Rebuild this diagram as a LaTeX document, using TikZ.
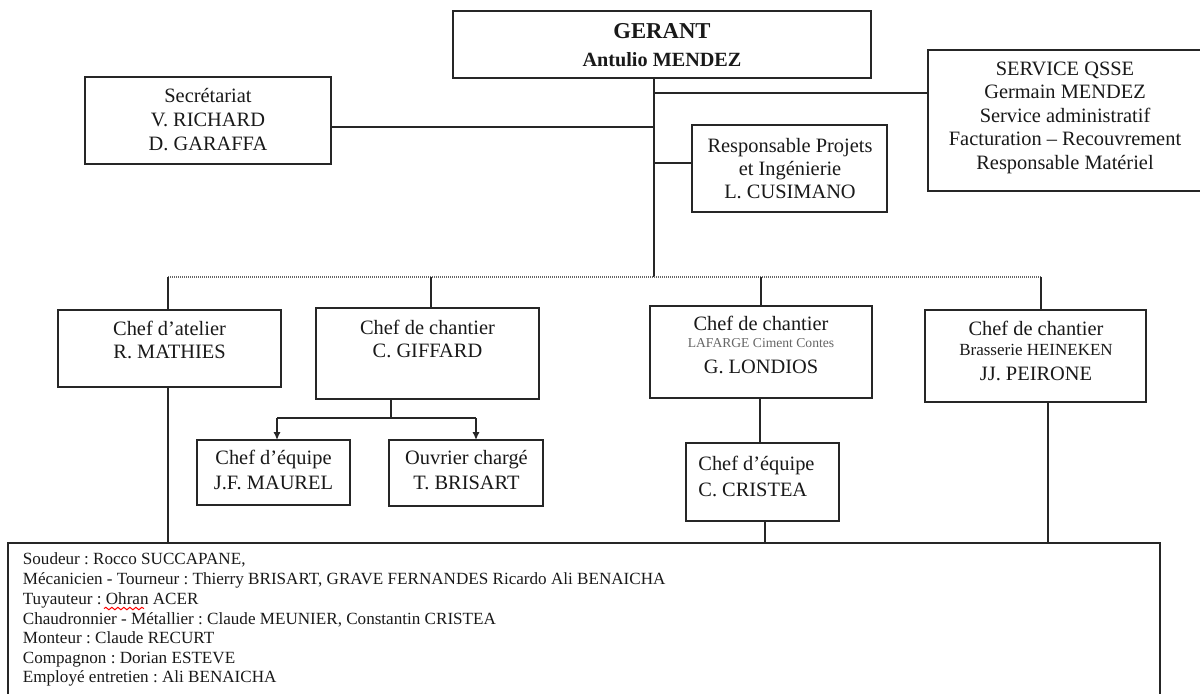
\documentclass[tikz,border=0pt]{standalone}
\usepackage{fontspec}
\setmainfont{Liberation Serif}
\frenchspacing
\usetikzlibrary{fit,arrows.meta,decorations.pathmorphing}
\begin{document}
\begin{tikzpicture}[x=0.5pt,y=-0.5pt,
 box/.style={draw=black!85, line width=0.8pt, inner sep=0pt, outer sep=0pt},
 link/.style={draw=black!85, line width=0.7pt},
 dots/.style={draw=black!60, line width=0.9pt, dash pattern=on 0.5pt off 0.5pt},
 arr/.style={link, -{Latex[length=4pt,width=3.6pt]}},
 t/.style={inner sep=0pt, anchor=base, font=\fontsize{10.2}{12}\selectfont, text=black!90},
 tl/.style={t, anchor=base west},
 small/.style={inner sep=0pt, anchor=base west, font=\fontsize{8.55}{10}\selectfont, text=black!90},
]
\clip (0,0) rectangle (1200,693);
\fill[white] (0,0) rectangle (1200,693);

% boxes
\node[box, fit={(453,11)(871,78)}] (gerant) {};
\node[box, fit={(85,77)(331,164)}] (secr) {};
\node[box, fit={(692,125)(887,212)}] (resp) {};
\node[box, fit={(928,50)(1215,191)}] (qsse) {};
\node[box, fit={(58,310)(281,387)}] (atelier) {};
\node[box, fit={(316,308)(539,399)}] (giffard) {};
\node[box, fit={(650,306)(872,398)}] (londios) {};
\node[box, fit={(925,310)(1146,402)}] (heineken) {};
\node[box, fit={(197,440)(350,505)}] (jf) {};
\node[box, fit={(389,440)(543,506)}] (ouv) {};
\node[box, fit={(686,443)(839,521)}] (cristea) {};
\node[box, fit={(8,543)(1160,740)}] (equipe) {};

% texts
\node[t, font=\fontsize{11.35}{13}\selectfont\bfseries] (gT1) at (662,38.5) {GERANT};
\node[t, font=\fontsize{10.1}{12}\selectfont\bfseries] (gT2) at (662,66) {Antulio MENDEZ};

\node[t] (sT1) at (208,102.5) {Secrétariat};
\node[t] (sT2) at (208,126.5) {V. RICHARD};
\node[t] (sT3) at (208,150.5) {D. GARAFFA};

\node[t] (rT1) at (790,152.5) {Responsable Projets};
\node[t] (rT2) at (790,175.5) {et Ingénierie};
\node[t] (rT3) at (790,198.5) {L. CUSIMANO};

\node[t] (qT1) at (1065,75) {SERVICE QSSE};
\node[t] (qT2) at (1065,98.5) {Germain MENDEZ};
\node[t] (qT3) at (1065,122) {Service administratif};
\node[t] (qT4) at (1065,145.5) {Facturation – Recouvrement};
\node[t] (qT5) at (1065,169) {Responsable Matériel};

\node[t] (aT1) at (169.5,335) {Chef d’atelier};
\node[t] (aT2) at (169.5,358.5) {R. MATHIES};

\node[t] (cT1) at (427.5,334) {Chef de chantier};
\node[t] (cT2) at (427.5,357) {C. GIFFARD};

\node[t] (lT1) at (761,330.5) {Chef de chantier};
\node[t, font=\fontsize{6.8}{8}\selectfont, text=black!60] (lT2) at (761,347.5) {LAFARGE Ciment Contes};
\node[t] (lT3) at (761,373.5) {G. LONDIOS};

\node[t] (hT1) at (1036,335) {Chef de chantier};
\node[t, font=\fontsize{8.5}{10}\selectfont] (hT2) at (1036,355.5) {Brasserie HEINEKEN};
\node[t] (hT3) at (1036,380) {JJ. PEIRONE};

\node[t] (jT1) at (273.5,464) {Chef d’équipe};
\node[t] (jT2) at (273.5,489) {J.F. MAUREL};

\node[t] (oT1) at (466.5,464) {Ouvrier chargé};
\node[t] (oT2) at (466.5,489) {T. BRISART};

\node[tl] (kT1) at (698,470.5) {Chef d’équipe};
\node[tl] (kT2) at (698,496) {C. CRISTEA};

\node[small] (b1) at (22.5,564) {Soudeur : Rocco SUCCAPANE,};
\node[small] (b2) at (22.5,584) {Mécanicien - Tourneur : Thierry BRISART, GRAVE FERNANDES Ricardo Ali BENAICHA};
\node[small] (b3) at (22.5,604.5) {Tuyauteur : Ohran ACER};
\node[small] (b4) at (22.5,624) {Chaudronnier - Métallier : Claude MEUNIER, Constantin CRISTEA};
\node[small] (b5) at (22.5,643.5) {Monteur : Claude RECURT};
\node[small] (b6) at (22.5,663) {Compagnon : Dorian ESTEVE};
\node[small] (b7) at (22.5,682) {Employé entretien : Ali BENAICHA};
\draw[red, line width=0.5pt, decorate, decoration={snake, amplitude=0.6pt, segment length=3pt}] (104,608.5) -- (144,608.5);

% connectors
\coordinate (t0) at (654,277);
\coordinate (j1) at (654,93);
\coordinate (j2) at (654,127);
\coordinate (j3) at (654,163);
\draw[link] (t0 |- gerant.south) -- (t0);
\draw[link] (j1) -- (j1 -| qsse.west);
\draw[link] (j2) -- (j2 -| secr.east);
\draw[link] (j3) -- (j3 -| resp.west);

\coordinate (d1) at (168,277);
\coordinate (d2) at (431,277);
\coordinate (d3) at (761,277);
\coordinate (d4) at (1041,277);
\draw[dots] (d1) -- (d4);
\draw[link] (d1) -- (d1 |- atelier.north);
\draw[link] (d2) -- (d2 |- giffard.north);
\draw[link] (d3) -- (d3 |- londios.north);
\draw[link] (d4) -- (d4 |- heineken.north);

\coordinate (g1) at (391,418);
\coordinate (gl) at (277,418);
\coordinate (gr) at (476,418);
\draw[link] (g1 |- giffard.south) -- (g1);
\draw[link] (gl) -- (gr);
\draw[arr] (gl) -- (gl |- jf.north);
\draw[arr] (gr) -- (gr |- ouv.north);

\coordinate (v1) at (168,0);
\coordinate (v2) at (760,0);
\coordinate (v3) at (765,0);
\coordinate (v4) at (1048,0);
\draw[link] (v1 |- atelier.south) -- (v1 |- equipe.north);
\draw[link] (v2 |- londios.south) -- (v2 |- cristea.north);
\draw[link] (v3 |- cristea.south) -- (v3 |- equipe.north);
\draw[link] (v4 |- heineken.south) -- (v4 |- equipe.north);
\end{tikzpicture}
\end{document}
